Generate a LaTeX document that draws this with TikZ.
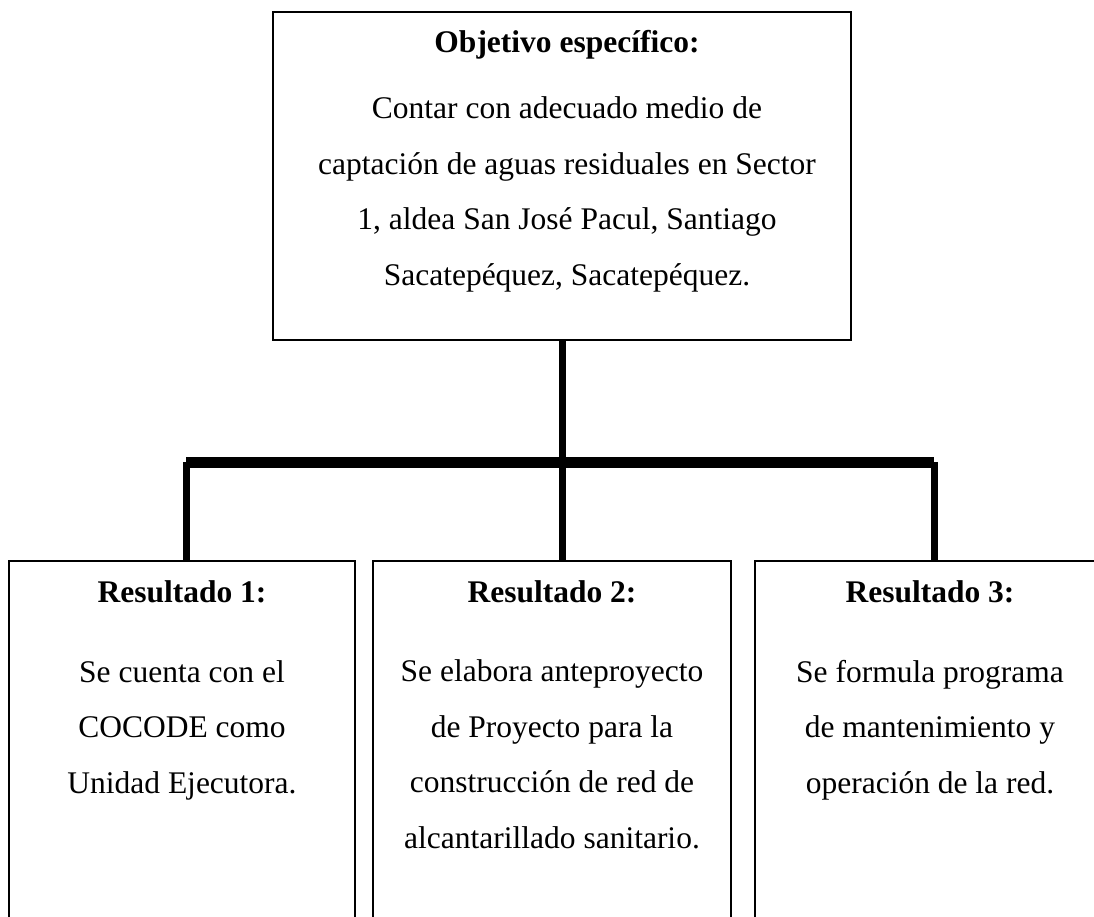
\documentclass[tikz,border=0pt]{standalone}
\usepackage{fontspec}
\setmainfont{Liberation Serif}

\tikzset{
  caja/.style={draw, line width=0.8pt, anchor=north, inner sep=0pt, minimum height=190pt},
  titulo/.style={anchor=base, inner sep=0pt, font=\fontsize{15.75}{27.5}\selectfont\bfseries},
  texto/.style={anchor=base, inner sep=0pt, align=center, font=\fontsize{15.75}{27.75}\selectfont},
  tronco/.style={line width=3.5pt},
  barra/.style={line width=5.5pt}
}

\begin{document}
\begin{tikzpicture}[x=0.5pt,y=-0.5pt]
\useasboundingbox (0,0) rectangle (1094,917);
\clip (0,0) rectangle (1094,917);

% objetivo (base = ultima linea del texto)
\node[caja, line width=1pt, minimum width=289pt, minimum height=164pt] (obj) at (562,11) {};
\node[titulo] (objtit) at (567,52) {Objetivo específico:};
\node[texto] (objtxt) at (567,285) {Contar con adecuado medio de\\captación de aguas residuales en Sector\\1, aldea San José Pacul, Santiago\\Sacatepéquez, Sacatepéquez.};

% resultados
\node[caja, minimum width=173pt] (caja1) at (182,560) {};
\node[caja, minimum width=179pt] (caja2) at (552,560) {};
\node[caja, minimum width=175pt] (caja3) at (930,560) {};
\node[titulo] (r1tit) at (182,602) {Resultado 1:};
\node[titulo] (r2tit) at (552,602) {Resultado 2:};
\node[titulo] (r3tit) at (930,602) {Resultado 3:};
\node[texto] (r1txt) at (182,793) {Se cuenta con el\\COCODE como\\Unidad Ejecutora.};
\node[texto] (r2txt) at (552,848) {Se elabora anteproyecto\\de Proyecto para la\\construcción de red de\\alcantarillado sanitario.};
\node[texto] (r3txt) at (930,793) {Se formula programa\\de mantenimiento y\\operación de la red.};

% conectores
\coordinate (d1) at (186,462);
\coordinate (d3) at (934,462);
\draw[tronco] (obj.south) -- (obj.south |- caja2.north);
\draw[barra] (d1) -- (d3);
\draw[tronco] (d1) -- (d1 |- caja1.north);
\draw[tronco] (d3) -- (d3 |- caja3.north);
\end{tikzpicture}
\end{document}
